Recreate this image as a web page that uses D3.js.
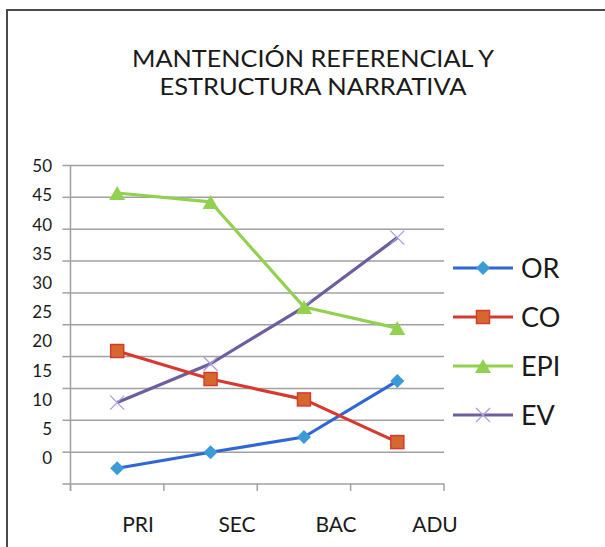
<!DOCTYPE html>
<html>
<head>
<meta charset="utf-8">
<script src="https://cdn.jsdelivr.net/npm/d3@7"></script>
<style>
  body { margin: 0; background: #fff; }
  text { font-family: Lato, "Open Sans", sans-serif; fill: #1a1a1a; }
</style>
</head>
<body>
<div id="chartContainer"></div>
<script>
const categories = ['PRI', 'SEC', 'BAC', 'ADU'];
const seriesNames = ['OR', 'CO', 'EPI', 'EV'];
const valuesOR = [2.4, 4.9, 7.3, 16.1];
const valuesCO = [20.8, 16.4, 13.2, 6.5];
const valuesEPI = [45.6, 44.2, 27.7, 24.4];
const valuesEV = [12.7, 18.8, 27.7, 38.6];
const yTickLabels = [50, 45, 40, 35, 30, 25, 20, 15, 10, 5, 0];
const titleLines = ['MANTENCIÓN REFERENCIAL Y', 'ESTRUCTURA NARRATIVA'];

function init() {
    const width = 605;
    const height = 547;

    const svg = d3.select('#chartContainer')
        .append('svg')
        .attr('width', width)
        .attr('height', height);

    // frame (top + left only visible)
    svg.append('path')
        .attr('d', `M7,${height} L7,10 L${width},10`)
        .attr('fill', 'none')
        .attr('stroke', '#4a4a4a')
        .attr('stroke-width', 2);

    // title
    const titleLen = [362, 307];
    svg.append('g').selectAll('text')
        .data(titleLines)
        .enter()
        .append('text')
        .attr('x', 313)
        .attr('y', (d, i) => 67 + i * 28)
        .attr('text-anchor', 'middle')
        .attr('font-size', 23)
        .attr('textLength', (d, i) => titleLen[i])
        .attr('lengthAdjust', 'spacingAndGlyphs')
        .text(d => d);

    const scX = d3.scaleBand()
        .domain(categories)
        .range([70.5, 444]);

    const scY = d3.scaleLinear()
        .domain([0, 50])
        .range([483.5, 165]);

    // gridlines
    svg.append('g')
        .attr('class', 'main-grid')
        .attr('transform', 'translate(70.5,0)')
        .call(d3.axisLeft(scY).tickValues(d3.range(0, 51, 5)).tickFormat('').tickSizeInner(-(444 - 70.5)).tickSizeOuter(0))
        .call(g => g.select('.domain').remove())
        .call(g => g.selectAll('line').attr('stroke', '#a0a0a0').attr('stroke-width', 1.5));

    // left tick stubs
    svg.append('g')
        .attr('transform', 'translate(70.5,0)')
        .call(d3.axisLeft(scY).tickValues(d3.range(0, 51, 5)).tickFormat('').tickSizeInner(8).tickSizeOuter(0))
        .call(g => g.select('.domain').remove())
        .call(g => g.selectAll('line').attr('stroke', '#a0a0a0').attr('stroke-width', 1.5));

    // y axis line
    svg.append('line')
        .attr('x1', 70.5).attr('x2', 70.5)
        .attr('y1', scY(50)).attr('y2', 491)
        .attr('stroke', '#a0a0a0').attr('stroke-width', 1.5);

    // x axis
    const xTicks = scX.domain().map(c => scX(c)).concat([444]);
    svg.append('g')
        .selectAll('line')
        .data(xTicks)
        .enter()
        .append('line')
        .attr('x1', d => d).attr('x2', d => d)
        .attr('y1', scY(0)).attr('y2', 491)
        .attr('stroke', '#a0a0a0').attr('stroke-width', 1.5);

    // y tick labels (as placed in the picture)
    const scYLab = d3.scalePoint().domain(yTickLabels).range([166, 458]);
    svg.append('g').selectAll('text')
        .data(yTickLabels)
        .enter()
        .append('text')
        .attr('x', 52)
        .attr('y', d => scYLab(d))
        .attr('dy', '0.36em')
        .attr('text-anchor', 'end')
        .attr('font-size', 17)
        .text(d => d);

    // x labels
    const scXLab = d3.scalePoint().domain(categories).range([138, 435]);
    svg.append('g').selectAll('text')
        .data(categories)
        .enter()
        .append('text')
        .attr('x', d => scXLab(d))
        .attr('y', 532)
        .attr('text-anchor', 'middle')
        .attr('font-size', 21)
        .text(d => d);

    const series = [
        { name: 'OR', values: valuesOR, line: '#2f68d6', fill: '#3a9bd6', stroke: '#3a9bd6', shape: 'diamond' },
        { name: 'CO', values: valuesCO, line: '#d8392f', fill: '#d4692f', stroke: '#d8392f', shape: 'square' },
        { name: 'EPI', values: valuesEPI, line: '#92d050', fill: '#92d050', stroke: '#92d050', shape: 'triangle' },
        { name: 'EV', values: valuesEV, line: '#6e5e9e', fill: 'none', stroke: '#a99ddb', shape: 'x' }
    ];

    function marker(g, s) {
        if (s.shape === 'diamond') {
            g.append('path').attr('d', 'M0,-7 L7,0 L0,7 L-7,0 Z').attr('fill', s.fill);
        } else if (s.shape === 'square') {
            g.append('rect').attr('x', -6.5).attr('y', -6.5).attr('width', 13).attr('height', 13)
                .attr('fill', s.fill).attr('stroke', s.stroke).attr('stroke-width', 1.5);
        } else if (s.shape === 'triangle') {
            g.append('path').attr('d', 'M0,-7 L8,7 L-8,7 Z').attr('fill', s.fill);
        } else {
            g.append('path').attr('d', 'M-7,-7 L7,7 M-7,7 L7,-7').attr('stroke', s.stroke).attr('stroke-width', 1.3);
        }
    }

    const lineMaker = d3.line()
        .x((d, i) => scX(categories[i]) + scX.bandwidth() / 2)
        .y(d => scY(d));

    const order = ['EV', 'OR', 'CO', 'EPI'];
    order.forEach(n => {
        const s = series.find(d => d.name === n);
        svg.append('path')
            .attr('d', lineMaker(s.values))
            .attr('fill', 'none')
            .attr('stroke', s.line)
            .attr('stroke-width', 3.2)
            .attr('stroke-linejoin', 'round');
        s.values.forEach((v, i) => {
            const g = svg.append('g')
                .attr('transform', `translate(${scX(categories[i]) + scX.bandwidth() / 2},${scY(v)})`);
            marker(g, s);
        });
    });

    // legend
    const scLeg = d3.scalePoint().domain(seriesNames).range([268, 415]);
    series.forEach(s => {
        const y = scLeg(s.name);
        svg.append('line')
            .attr('x1', 453).attr('x2', 513)
            .attr('y1', y).attr('y2', y)
            .attr('stroke', s.line).attr('stroke-width', 3.2);
        marker(svg.append('g').attr('transform', `translate(483,${y})`), s);
        svg.append('text')
            .attr('x', 521)
            .attr('y', y + 10)
            .attr('font-size', 27)
            .text(s.name);
    });
}

init();
</script>
</body>
</html>
